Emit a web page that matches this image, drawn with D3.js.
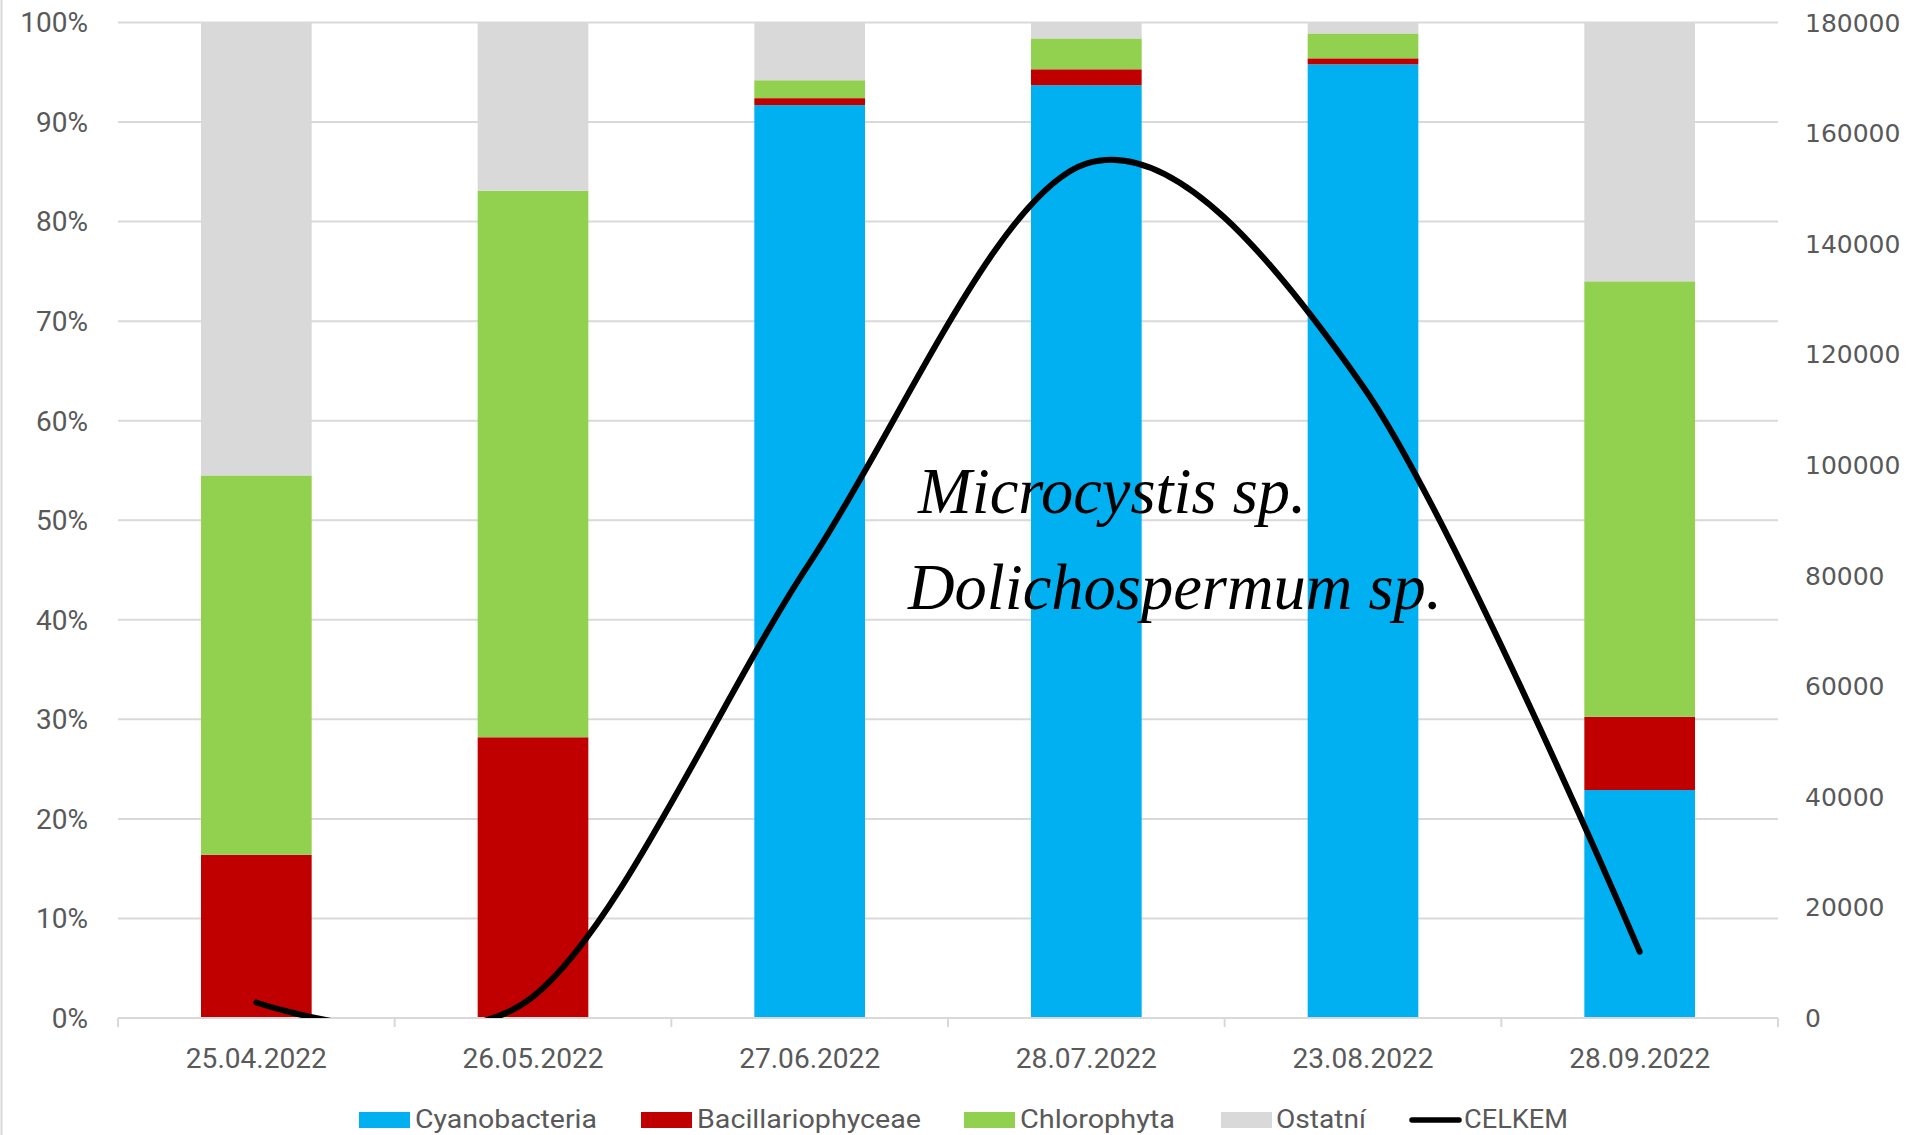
<!DOCTYPE html>
<html>
<head>
<meta charset="utf-8">
<script src="https://cdn.jsdelivr.net/npm/d3@7"></script>
<style>
  html, body { margin: 0; padding: 0; background: #ffffff; }
  svg { display: block; }
</style>
</head>
<body>
<svg id="chart" width="1907" height="1135"></svg>
<script>
// ---- data ----
const categories = ["25.04.2022", "26.05.2022", "27.06.2022", "28.07.2022", "23.08.2022", "28.09.2022"];
const seriesNames = ["Cyanobacteria", "Bacillariophyceae", "Chlorophyta", "Ostatní"];
const cyanobacteria     = [0,    0,    91.7, 93.7, 95.8, 22.9];
const bacillariophyceae = [16.4, 28.2, 0.7,  1.6,  0.6,  7.35];
const chlorophyta       = [38.1, 54.9, 1.8,  3.1,  2.5,  43.75];
const ostatni           = [45.5, 16.9, 5.8,  1.6,  1.1,  26.0];
const celkem            = [2800, 3850, 82300, 154500, 114200, 12000];
const lineName = "CELKEM";
const leftTicks  = [0, 10, 20, 30, 40, 50, 60, 70, 80, 90, 100];
const rightTicks = [0, 20000, 40000, 60000, 80000, 100000, 120000, 140000, 160000, 180000];
const annotations = ["Microcystis sp.", "Dolichospermum sp."];

// ---- layout / style ----
const colors = {"Cyanobacteria": "#00B0F0", "Bacillariophyceae": "#C00000", "Chlorophyta": "#92D050", "Ostatní": "#D9D9D9"};
const plot = {left: 118, right: 1778, top: 22.5, bottom: 1018};
const textColor = "#595959";
const gridColor = "#D9D9D9";
const sansFont = "Roboto, 'Open Sans', 'DejaVu Sans', sans-serif";

const svg = d3.select("#chart");

const rows = categories.map((c, i) => ({
  cat: c,
  "Cyanobacteria": cyanobacteria[i],
  "Bacillariophyceae": bacillariophyceae[i],
  "Chlorophyta": chlorophyta[i],
  "Ostatní": ostatni[i]
}));

const x = d3.scaleBand().domain(categories).range([plot.left, plot.right]).paddingInner(0.6).paddingOuter(0.3);
const yL = d3.scaleLinear().domain([0, 100]).range([plot.bottom, plot.top]);
const yR = d3.scaleLinear().domain([0, 180000]).range([plot.bottom, plot.top]);
const step = x.step();

// chart border (left edge)
svg.append("line").attr("x1", 1.5).attr("x2", 1.5).attr("y1", 0).attr("y2", 1135)
  .attr("stroke", gridColor).attr("stroke-width", 2);

// gridlines
svg.append("g").selectAll("line").data(leftTicks.filter(t => t > 0)).join("line")
  .attr("x1", plot.left).attr("x2", plot.right)
  .attr("y1", d => yL(d)).attr("y2", d => yL(d))
  .attr("stroke", gridColor).attr("stroke-width", 2);

// stacked bars
const stack = d3.stack().keys(seriesNames)(rows);
svg.append("g").selectAll("g").data(stack).join("g")
  .attr("fill", d => colors[d.key])
  .selectAll("rect").data(d => d).join("rect")
  .attr("x", d => x(d.data.cat))
  .attr("width", x.bandwidth())
  .attr("y", d => yL(d[1]))
  .attr("height", d => Math.max(0, yL(d[0]) - yL(d[1])));

// category axis line + ticks
const axisG = svg.append("g");
axisG.append("line").attr("x1", plot.left).attr("x2", plot.right)
  .attr("y1", plot.bottom).attr("y2", plot.bottom)
  .attr("stroke", gridColor).attr("stroke-width", 2);
const boundaries = d3.range(categories.length + 1).map(i => plot.left + i * step);
axisG.selectAll("line.tick").data(boundaries).join("line").attr("class", "tick")
  .attr("x1", d => d).attr("x2", d => d)
  .attr("y1", plot.bottom).attr("y2", plot.bottom + 9)
  .attr("stroke", gridColor).attr("stroke-width", 2);

// category labels
axisG.selectAll("text").data(categories).join("text")
  .attr("x", d => x(d) + x.bandwidth() / 2)
  .attr("y", 1068)
  .attr("text-anchor", "middle")
  .attr("font-family", sansFont).attr("font-size", 28)
  .attr("fill", textColor)
  .attr("textLength", 141).attr("lengthAdjust", "spacingAndGlyphs")
  .text(d => d);

// left axis labels
svg.append("g").selectAll("text").data(leftTicks).join("text")
  .attr("x", 88).attr("y", d => yL(d))
  .attr("dy", "0.35em")
  .attr("text-anchor", "end")
  .attr("font-family", sansFont).attr("font-size", 28)
  .attr("fill", textColor)
  .text(d => d + "%");

// right axis labels
svg.append("g").selectAll("text").data(rightTicks).join("text")
  .attr("x", 1805).attr("y", d => yR(d))
  .attr("dy", "0.36em")
  .attr("text-anchor", "start")
  .attr("font-family", "'DejaVu Sans', Verdana, sans-serif").attr("font-size", 25)
  .attr("fill", textColor)
  .text(d => d);

// clip for line
svg.append("defs").append("clipPath").attr("id", "plotClip")
  .append("rect").attr("x", 0).attr("y", plot.top - 20)
  .attr("width", 1907).attr("height", plot.bottom - plot.top + 20);

const line = d3.line()
  .x((d, i) => x(categories[i]) + x.bandwidth() / 2)
  .y(d => yR(d))
  .curve(d3.curveCardinal.tension(0.05));

svg.append("path").datum(celkem)
  .attr("d", line)
  .attr("clip-path", "url(#plotClip)")
  .attr("fill", "none").attr("stroke", "#000").attr("stroke-width", 6)
  .attr("stroke-linecap", "round").attr("stroke-linejoin", "round");

// annotations
const annoPos = [{x: 918, y: 513}, {x: 908, y: 609}];
svg.append("g").selectAll("text").data(annotations).join("text")
  .attr("x", (d, i) => annoPos[i].x).attr("y", (d, i) => annoPos[i].y)
  .attr("font-family", "'Liberation Serif', 'Times New Roman', serif")
  .attr("font-style", "italic").attr("font-size", 64.5)
  .attr("fill", "#000")
  .text(d => d);

// legend
const legendItems = [
  {name: seriesNames[0], sx: 359, tx: 415, tw: 182},
  {name: seriesNames[1], sx: 641, tx: 697, tw: 224},
  {name: seriesNames[2], sx: 964, tx: 1020, tw: 155},
  {name: seriesNames[3], sx: 1221, tx: 1276, tw: 90}
];
const lg = svg.append("g");
lg.selectAll("rect").data(legendItems).join("rect")
  .attr("x", d => d.sx).attr("y", 1112).attr("width", 51).attr("height", 16)
  .attr("fill", d => colors[d.name]);
lg.selectAll("text.s").data(legendItems).join("text").attr("class", "s")
  .attr("x", d => d.tx).attr("y", 1128)
  .attr("font-family", sansFont).attr("font-size", 26)
  .attr("fill", textColor)
  .attr("textLength", d => d.tw).attr("lengthAdjust", "spacingAndGlyphs")
  .text(d => d.name);
lg.append("line").attr("x1", 1412).attr("x2", 1459).attr("y1", 1120).attr("y2", 1120)
  .attr("stroke", "#000").attr("stroke-width", 5.5).attr("stroke-linecap", "round");
lg.append("text").attr("x", 1464).attr("y", 1128)
  .attr("font-family", sansFont).attr("font-size", 26)
  .attr("fill", textColor)
  .attr("textLength", 104).attr("lengthAdjust", "spacingAndGlyphs")
  .text(lineName);
</script>
</body>
</html>
